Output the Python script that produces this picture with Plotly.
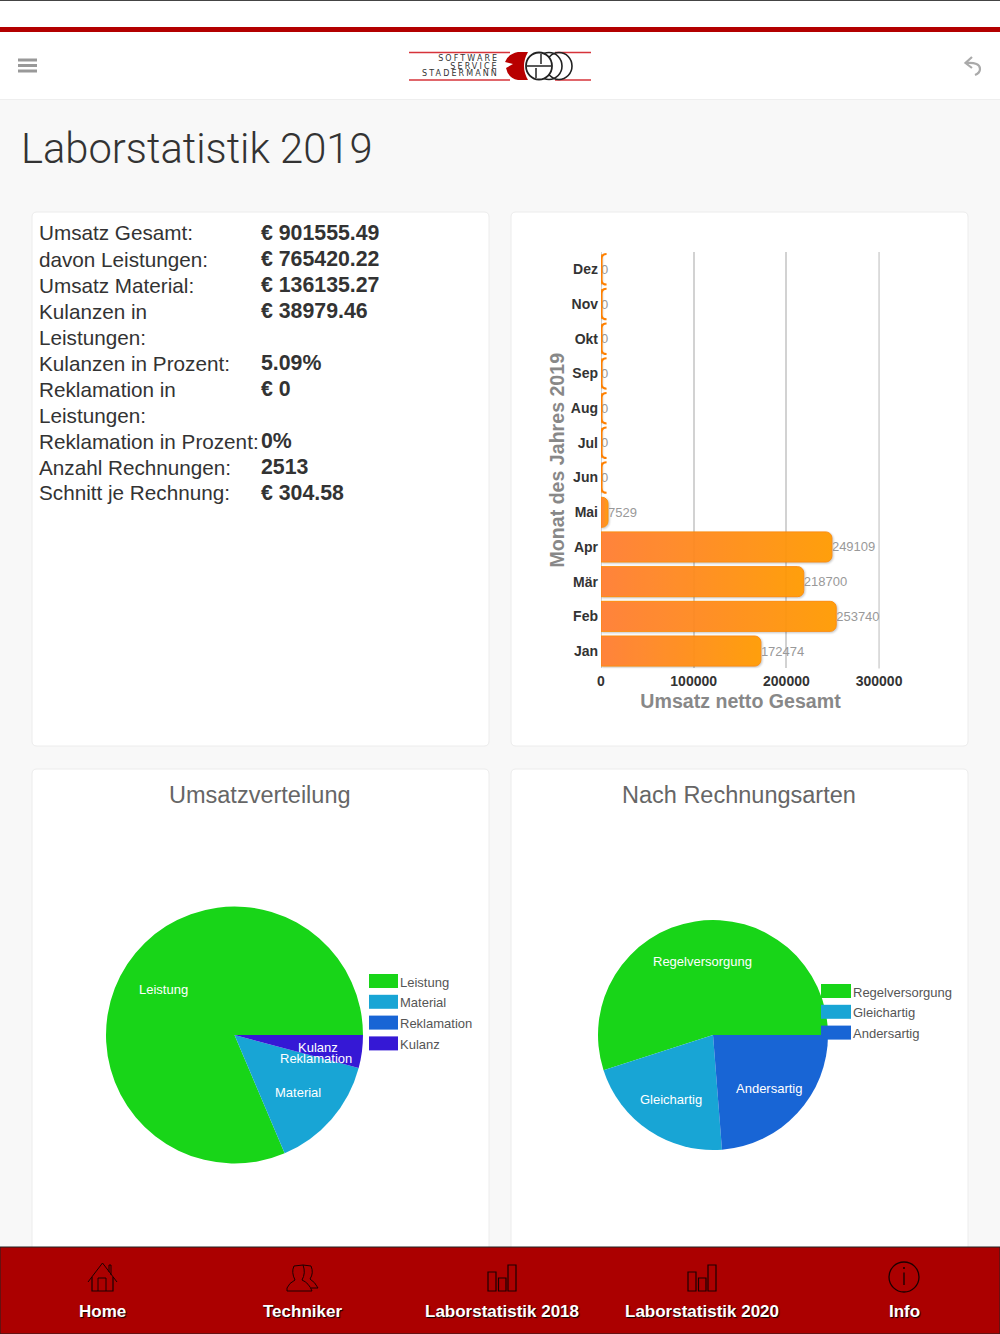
import plotly.graph_objects as go

W, H = 1000, 1334
FONT = "Liberation Sans"

# ---- data ----
months = ["Jan", "Feb", "Mär", "Apr", "Mai", "Jun", "Jul", "Aug", "Sep", "Okt", "Nov", "Dez"]
umsatz = [172474, 253740, 218700, 249109, 7529, 0, 0, 0, 0, 0, 0, 0]
x_ticks = [0, 100000, 200000, 300000]

vert_labels = ["Leistung", "Material", "Reklamation", "Kulanz"]
vert_values = [765420.22, 136135.27, 0, 38979.46]
vert_colors = ["#18d518", "#18a5d5", "#1865d5", "#3518d5"]

art_labels = ["Regelversorgung", "Gleichartig", "Andersartig"]
art_values = [1381, 535, 597]
art_colors = ["#18d518", "#18a5d5", "#1865d5"]

summary_labels = ["Umsatz Gesamt:", "davon Leistungen:", "Umsatz Material:", "Kulanzen in", "Leistungen:",
                  "Kulanzen in Prozent:", "Reklamation in", "Leistungen:", "Reklamation in Prozent:",
                  "Anzahl Rechnungen:", "Schnitt je Rechnung:"]
summary_values = ["€ 901555.49", "€ 765420.22", "€ 136135.27", "€ 38979.46", "",
                  "5.09%", "€ 0", "", "0%", "2513", "€ 304.58"]
footer_labels = ["Home", "Techniker", "Laborstatistik 2018", "Laborstatistik 2020", "Info"]

# ---- pixel helpers ----
px = lambda x: x / W
py = lambda y: 1 - y / H
shapes, notes = [], []


def rect(x0, y0, x1, y1, fill, line=None, lw=1, layer="below"):
    shapes.append(dict(type="rect", xref="paper", yref="paper", x0=px(x0), x1=px(x1), y0=py(y0), y1=py(y1),
                       fillcolor=fill, line=dict(color=line or "rgba(0,0,0,0)", width=lw if line else 0),
                       layer=layer))


def path(cmds, fill="rgba(0,0,0,0)", line=None, lw=1):
    out = []
    for c in cmds:
        if isinstance(c, str):
            out.append(c)
        else:
            pts = [f"{px(c[i])},{py(c[i + 1])}" for i in range(0, len(c), 2)]
            out.append(" ".join(pts))
    shapes.append(dict(type="path", xref="paper", yref="paper", path=" ".join(out), fillcolor=fill,
                       line=dict(color=line or "rgba(0,0,0,0)", width=lw if line else 0), layer="below"))


def card(x0, y0, x1, y1, r=5):
    path(["M", [x0 + r, y0], "L", [x1 - r, y0], "Q", [x1, y0, x1, y0 + r], "L", [x1, y1 - r],
          "Q", [x1, y1, x1 - r, y1], "L", [x0 + r, y1], "Q", [x0, y1, x0, y1 - r], "L", [x0, y0 + r],
          "Q", [x0, y0, x0 + r, y0], "Z"], fill="#ffffff", line="#ececec", lw=1)


def oval(cx, cy, rx, ry, line, lw=1, fill="rgba(0,0,0,0)"):
    shapes.append(dict(type="circle", xref="paper", yref="paper", x0=px(cx - rx), x1=px(cx + rx),
                       y0=py(cy + ry), y1=py(cy - ry), fillcolor=fill, line=dict(color=line, width=lw),
                       layer="below"))


def text(x, y, s, size, color="#333", bold=False, anchor="left", family=FONT, weight=None, shadow=None):
    f = dict(family=family, size=size, color=color, weight=weight or (700 if bold else 400))
    if shadow:
        f["shadow"] = shadow
    notes.append(dict(x=px(x), y=py(y), xref="paper", yref="paper", text=s, showarrow=False, font=f,
                      xanchor=anchor, yanchor="middle", borderpad=0, borderwidth=0))


# ---- page chrome ----
rect(0, 0, W, H, "#f8f8f8")
rect(0, 0, W, 32, "#ffffff")
rect(0, 0, W, 1, "#444444")
rect(0, 27, W, 32, "#b30000")
rect(0, 32, W, 99, "#ffffff")
rect(0, 99, W, 100, "#eeeeee")
for box in [(32, 212, 489, 746), (511, 212, 968, 746), (32, 769, 489, 1290), (511, 769, 968, 1290)]:
    card(*box)

# hamburger
for y in (60, 65.5, 71):
    rect(18, y - 1.5, 37, y + 1.5, "#999999")
# back arrow
path(["M", [972, 57], "L", [965.5, 63], "L", [972, 68]], line="#aaaaaa", lw=2.2)
path(["M", [966, 63], "Q", [980, 62, 980, 69], "Q", [980, 73, 975, 75]], line="#aaaaaa", lw=2.2)

# logo
for seg in [(409, 52.5, 510, 52.5), (409, 80, 510, 80), (555, 52.5, 591, 52.5), (555, 80, 591, 80)]:
    path(["M", [seg[0], seg[1]], "L", [seg[2], seg[3]]], line="#d6333a", lw=1.5)
path(["M", [528, 52], "L", [518, 52], "Q", [508, 54, 505, 62], "L", [513, 64], "L", [506, 68], "Q", [508, 78, 518, 80],
      "L", [528, 80], "Q", [520, 66, 528, 52], "Z"], fill="#b80000")
for cx in (559, 549):
    oval(cx, 66, 13, 13.5, "#222222", 1.6)
oval(539, 66, 13, 13.5, "#222222", 1.8, "#ffffff")
path(["M", [527, 66], "L", [551, 66]], line="#222222", lw=1.5)
path(["M", [541, 54], "L", [541, 64]], line="#222222", lw=1.5)
path(["M", [536, 68], "L", [536, 78]], line="#222222", lw=1.5)
text(499, 58.5, "SOFTWARE", 8, "#333", anchor="right", family="DejaVu Sans")
text(499, 66, "SERVICE", 8, "#333", anchor="right", family="DejaVu Sans")
text(499, 73.5, "STADERMANN", 8, "#333", anchor="right", family="DejaVu Sans")

text(21, 148, "Laborstatistik 2019", 41.7, "#333", family="Roboto", weight=300)

# summary table
row = 233
for lab, val in zip(summary_labels, summary_values):
    text(39, row, lab, 20.7, "#333")
    if val:
        text(261, row, val, 21.3, "#333", bold=True)
    row += 26

# card titles
text(260, 795, "Umsatzverteilung", 23.5, "#666", anchor="center")
text(739, 795, "Nach Rechnungsarten", 23.5, "#666", anchor="center")

# gridline at the last tick
shapes.append(dict(type="line", xref="x", yref="paper", x0=x_ticks[-1], x1=x_ticks[-1], y0=py(668.4), y1=py(252),
                   layer="below", line=dict(color="#d2d2d2", width=1.5)))

# zero-value bar end brackets
for i, v in enumerate(umsatz):
    if v == 0:
        shapes.append(dict(type="path", xref="x", yref="y", layer="above",
                           path=f"M 6000,{i + .44} Q 600,{i + .44} 600,{i + .3} L 600,{i - .3} "
                                f"Q 600,{i - .44} 6000,{i - .44}",
                           line=dict(color="#ff8000", width=2)))

# pie legends and slice labels
for i, lab in enumerate(vert_labels):
    y = 981 + 20.8 * i
    rect(369, y - 7, 398, y + 7, vert_colors[i], layer="above")
    text(400, y + 1, lab, 13, "#555")
for (x, y, s) in [(163, 989, "Leistung"), (298, 1092, "Material"), (318, 1047, "Kulanz"), (316, 1058, "Reklamation")]:
    text(x, y, s, 13, "#ffffff", anchor="center")

for i, lab in enumerate(art_labels):
    y = 991 + 20.8 * i
    rect(821, y - 7, 851, y + 7, art_colors[i], layer="above")
    text(853, y + 1, lab, 13, "#555")
for (x, y, s) in [(702, 961, "Regelversorgung"), (671, 1099, "Gleichartig"), (769, 1088, "Andersartig")]:
    text(x, y, s, 13, "#ffffff", anchor="center")

# footer
rect(0, 1247, W, H, "#ab0000", "#222222", 1)
for cx, s in zip([102, 302, 502, 702, 904], footer_labels):
    text(cx, 1311, s, 17, "#ffffff", bold=True, anchor="center", shadow="1px 1px 1px #000")
DK = "#1c0000"
path(["M", [88, 1282], "L", [102.5, 1263], "L", [117, 1282]], line=DK)
path(["M", [92, 1277], "L", [92, 1291], "L", [113, 1291], "L", [113, 1277]], line=DK, lw=1.2)
path(["M", [98, 1291], "L", [98, 1278], "L", [106, 1278], "L", [106, 1291]], line=DK)
path(["M", [109, 1272], "L", [109, 1265], "L", [111, 1265], "L", [111, 1275]], line=DK)
path(["M", [287, 1288], "Q", [289, 1283, 295, 1280], "Q", [291, 1272, 294, 1266], "L", [303, 1265],
      "Q", [306, 1273, 302, 1280], "Q", [309, 1283, 312, 1291], "L", [287, 1291], "Z"], line=DK)
path(["M", [303, 1265], "L", [311, 1266], "Q", [314, 1273, 310, 1279], "Q", [315, 1282, 318, 1288], "L", [311, 1288]],
     line=DK)
for off in (0, 200):
    for (a, b, top) in [(488, 496, 1272), (498.5, 506, 1278), (508, 516, 1265)]:
        rect(a + off, top, b + off, 1291, "rgba(0,0,0,0)", DK, 1.2)
oval(904, 1277, 15, 15, DK, 1.3)
path(["M", [904, 1272.5], "L", [904, 1285]], line=DK, lw=1.4)
path(["M", [904, 1267], "L", [904, 1269]], line=DK, lw=1.6)

# ---- traces ----
fig = go.Figure()
fig.add_trace(go.Bar(
    x=umsatz, y=list(range(len(months))), orientation="h",
    marker=dict(color="#ff8c1a", opacity=0.95, line=dict(color="#ff8800", width=1)),
    text=[str(v) for v in umsatz], textposition="outside", cliponaxis=False,
    textfont=dict(family=FONT, size=13, color="#999999"), hoverinfo="skip", width=0.865,
))


def pie(cx, cy, r, labels, values, colors):
    # plotly's counterclockwise layout ends the first slice at `rotation`; shift so it starts at 3 o'clock
    rot = 90 - 360 * values[0] / sum(values)
    fig.add_trace(go.Pie(
        labels=labels, values=values, sort=False, direction="counterclockwise", rotation=rot,
        marker=dict(colors=colors, line=dict(width=0)), textinfo="none", hoverinfo="skip", showlegend=False,
        domain=dict(x=[px(cx - r), px(cx + r)], y=[py(cy + r), py(cy - r)]),
    ))


pie(234.5, 1035, 128.5, vert_labels, vert_values, vert_colors)
pie(713, 1035, 115, art_labels, art_values, art_colors)

fig.update_layout(
    template="none",
    width=W, height=H, margin=dict(l=0, r=0, t=0, b=0, pad=0), autosize=False, showlegend=False,
    paper_bgcolor="#f8f8f8", plot_bgcolor="rgba(0,0,0,0)", shapes=shapes, annotations=notes,
    barcornerradius=6, font=dict(family=FONT),
    xaxis=dict(domain=[px(601), px(880)], range=[0, 301000], tickvals=x_ticks, tickformat="d", automargin=False,
               showgrid=True, gridcolor="#d2d2d2", gridwidth=1.5, zeroline=True, zerolinecolor="#d2d2d2",
               showline=False, ticks="outside", ticklen=0, tickcolor="rgba(0,0,0,0)",
               tickfont=dict(family=FONT, size=14, color="#333333", weight=700),
               title=dict(text="Umsatz netto Gesamt", standoff=6,
                          font=dict(family=FONT, size=19.6, color="#888888", weight=700))),
    yaxis=dict(domain=[py(668.4), py(252)], range=[-0.5, 11.5], tickvals=list(range(12)), ticktext=months,
               automargin=False, showgrid=False, zeroline=False, showline=False, ticks="", ticklabelstandoff=2,
               tickfont=dict(family=FONT, size=14, color="#333333", weight=700),
               title=dict(text="Monat des Jahres 2019", standoff=0,
                          font=dict(family=FONT, size=19.6, color="#888888", weight=700))),
)

post = """
document.body.style.margin='0';
document.body.style.background='#f8f8f8';
var gd=document.getElementById('{plot_id}');
var svg=gd.querySelector('svg.main-svg');
var ns='http://www.w3.org/2000/svg';
var g=document.createElementNS(ns,'linearGradient');g.setAttribute('id','barfill');
[['0%','#ff7d32'],['100%','#ff9a00']].forEach(function(s){
 var st=document.createElementNS(ns,'stop');st.setAttribute('offset',s[0]);st.setAttribute('stop-color',s[1]);g.appendChild(st);});
svg.querySelector('defs').appendChild(g);
gd.querySelectorAll('.bars .point path').forEach(function(p){
 p.style.setProperty('fill','url(#barfill)');
 p.style.setProperty('filter','drop-shadow(1px 1px 1px rgba(0,0,0,.25))');});
gd.querySelectorAll('.bars .point text').forEach(function(t){
 t.setAttribute('transform',(t.getAttribute('transform')||'')+' translate(-3,0)');});
gd.querySelectorAll('.annotation-text').forEach(function(t){
 if(['SOFTWARE','SERVICE','STADERMANN'].indexOf(t.textContent)<0) return;
 var b=t.getBBox(); var r=b.x+b.width;
 t.style.setProperty('letter-spacing','2.1px');
 var a=t.getBBox();
 t.setAttribute('x',parseFloat(t.getAttribute('x')||0)-(a.x+a.width-r));});
"""
fig.write_html("out.html", post_script=post, config=dict(displayModeBar=False))
